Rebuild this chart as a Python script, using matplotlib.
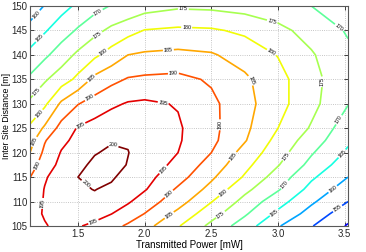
import matplotlib
matplotlib.use("Agg")
import matplotlib.pyplot as plt
from matplotlib.colors import Normalize

plt.rcParams['font.family'] = ['Liberation Sans', 'DejaVu Sans']

# transmitted power [mW] (columns) and inter site distance [m] (rows)
power = [1.14, 1.25, 1.375, 1.5, 1.625, 1.75, 1.875, 2.0, 2.25, 2.5, 2.75, 3.0, 3.25, 3.525]
distance = [105, 107.5, 110, 112.5, 115, 117.5, 120, 122.5, 125, 130, 135, 140, 145, 150]

# values, one row per distance
capacity = [
    [192.5, 194.6, 196.5, 195.5, 193.5, 191.5, 189.3, 186.8, 180.4, 173.7, 167.5, 160.4, 155.3, 149.5],
    [193.0, 195.5, 197.2, 198.0, 197.5, 195.1, 192.5, 189.9, 183.7, 177.0, 170.7, 163.9, 158.1, 152.0],
    [193.0, 195.3, 197.5, 199.0, 199.2, 198.0, 195.6, 192.6, 187.1, 180.2, 173.4, 167.0, 160.8, 155.0],
    [191.5, 195.2, 197.8, 199.5, 200.1, 199.3, 197.5, 195.4, 189.3, 183.5, 176.3, 170.5, 163.4, 157.5],
    [189.9, 194.5, 197.3, 200.0, 201.3, 200.5, 198.6, 196.6, 191.9, 185.8, 179.5, 172.7, 165.8, 160.0],
    [187.5, 192.5, 196.3, 198.8, 201.0, 201.5, 199.8, 197.8, 193.7, 188.0, 181.4, 175.3, 168.5, 162.1],
    [185.0, 191.1, 195.3, 197.5, 199.7, 200.8, 200.1, 198.4, 195.0, 190.0, 183.2, 177.1, 170.5, 164.2],
    [183.0, 189.6, 193.9, 196.3, 198.0, 199.6, 199.7, 198.3, 195.5, 191.2, 185.4, 178.4, 172.6, 165.8],
    [180.8, 185.8, 191.8, 195.4, 197.0, 198.2, 198.6, 198.3, 195.6, 191.4, 186.1, 180.0, 174.5, 167.1],
    [176.1, 179.0, 185.9, 189.8, 192.0, 194.1, 195.4, 195.8, 194.7, 191.1, 186.7, 181.7, 176.5, 170.2],
    [170.9, 174.4, 177.5, 181.2, 186.3, 188.6, 190.4, 190.9, 191.3, 189.4, 185.9, 181.6, 176.7, 171.3],
    [166.4, 169.0, 172.5, 176.0, 179.0, 182.0, 185.0, 185.7, 186.2, 185.5, 182.9, 179.8, 175.5, 171.0],
    [161.5, 164.5, 167.6, 170.6, 173.6, 176.1, 178.2, 180.2, 180.9, 180.6, 179.1, 176.3, 173.2, 169.5],
    [157.5, 160.2, 163.3, 165.9, 168.2, 170.3, 171.2, 172.8, 174.2, 173.9, 173.0, 172.0, 170.0, 167.5],
]

levels = [150, 155, 160, 165, 170, 175, 180, 185, 190, 195, 200]

# where the contour labels sit
label_pos = [
    (1.765, 121.6), (1.528, 112.7),
    (1.528, 125.0), (2.14, 130.4), (1.24, 109.6), (2.14, 116.5), (1.615, 105.9),
    (1.19, 117.5), (1.59, 131.1), (2.215, 136.6), (2.578, 125.7), (2.177, 111.7),
    (1.177, 122.2), (1.59, 135.5), (2.177, 141.3), (2.815, 134.9), (2.665, 119.2), (2.177, 107.5),
    (1.177, 128.7), (1.678, 141.0), (2.315, 145.9), (2.963, 141.0), (2.6, 111.5),
    (1.177, 132.8), (1.64, 144.4), (2.29, 149.5), (2.963, 147.5), (3.338, 134.5), (3.075, 119.0), (2.565, 107.5),
    (1.64, 149.2), (3.465, 145.8), (3.44, 127.0), (3.053, 113.4),
    (1.202, 143.7), (3.478, 119.9), (2.978, 107.5),
    (1.19, 148.2), (3.415, 112.4),
    (3.453, 108.3),
]

fig = plt.figure(figsize=(3.66, 2.52), dpi=100)
ax = fig.add_axes([30/366, 26/252, 318/366, 220/252])

cs = ax.contour(power, distance, capacity, levels=levels, cmap='jet',
                norm=Normalize(vmin=144, vmax=200), linewidths=1.2)
ax.clabel(cs, fmt='%d', fontsize=3.8, colors='k', manual=label_pos, inline_spacing=1)

ax.set_xlim(1.14, 3.525)
ax.set_ylim(105, 150)
ax.set_xticks([1.5, 2, 2.5, 3, 3.5])
ax.set_yticks([105, 110, 115, 120, 125, 130, 135, 140, 145, 150])
ax.grid(True, linestyle=':', color='0.7', linewidth=0.6)
ax.tick_params(direction='in', top=True, right=True, length=3, width=0.6,
               labelsize=6.9, colors='0.15', pad=2)
for s in ax.spines.values():
    s.set_color('0.35')
    s.set_linewidth(0.8)

ax.set_xlabel('Transmitted Power [mW]', fontsize=7, labelpad=1)
ax.set_ylabel('Inter Site Distance [m]', fontsize=6.3)
ax.yaxis.set_label_coords(-0.0597, 0.5)

plt.savefig('out.png', dpi=100)
